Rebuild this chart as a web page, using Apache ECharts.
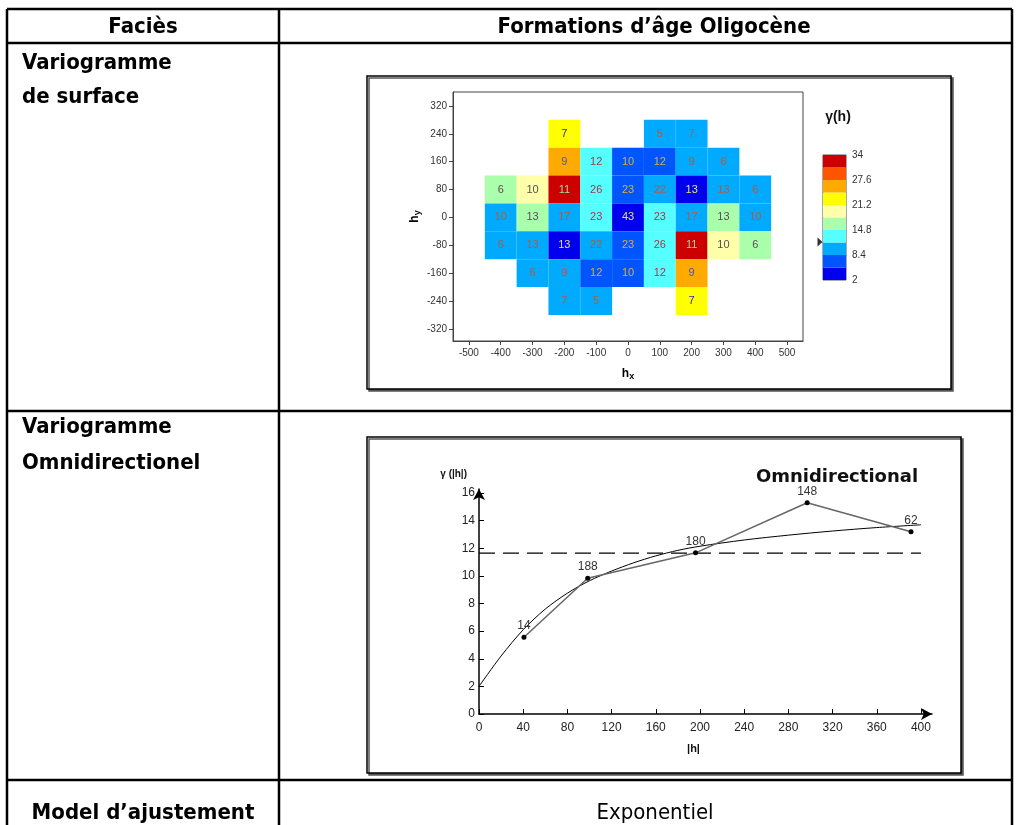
<!DOCTYPE html>
<html>
<head>
<meta charset="utf-8">
<script src="https://cdn.jsdelivr.net/npm/echarts@6/dist/echarts.min.js"></script>
<style>html,body{margin:0;padding:0;background:#fff}#c{width:1017px;height:825px}</style>
</head>
<body>
<div id="c"></div>
<script>
// ---- surface variogram map (cell centres, gamma value, pair count) ----
const hmX     = [-200, 100, 200,  -200,-100,   0, 100, 200, 300,  -400,-300,-200,-100,   0, 100, 200, 300, 400,  -400,-300,-200,-100,   0, 100, 200, 300, 400,  -400,-300,-200,-100,   0, 100, 200, 300, 400,  -300,-200,-100,   0, 100, 200,  -200,-100, 200];
const hmY     = [ 240, 240, 240,   160, 160, 160, 160, 160, 160,    80,  80,  80,  80,  80,  80,  80,  80,  80,     0,   0,   0,   0,   0,   0,   0,   0,   0,   -80, -80, -80, -80, -80, -80, -80, -80, -80,  -160,-160,-160,-160,-160,-160,  -240,-240,-240];
const hmGamma = [22.8,  10,  10,    26,13.2, 6.8, 6.8,  10,  10,  16.4,19.6,32.4,13.2, 6.8,  10, 3.6,  10,  10,    10,16.4,  10,13.2, 3.6,13.2,  10,16.4,  10,    10,  10, 3.6,  10, 6.8,13.2,32.4,19.6,16.4,    10,  10, 6.8, 6.8,13.2,  26,    10,  10,22.8];
const hmCount = [   7,   5,   7,     9,  12,  10,  12,   9,   6,     6,  10,  11,  26,  23,  22,  13,  13,   6,    10,  13,  17,  23,  43,  23,  17,  13,  10,     6,  13,  13,  22,  23,  26,  11,  10,   6,     6,   9,  12,  10,  12,   9,     7,   5,   7];
const cellW = 100, cellH = 80;
const hmXTicks = [-500,-400,-300,-200,-100,0,100,200,300,400,500];
const hmYTicks = [-320,-240,-160,-80,0,80,160,240,320];
// colour scale
const binEdges  = [2,5.2,8.4,11.6,14.8,18,21.2,24.4,27.6,30.8,34];
const binColors = ['#0000ee','#0055ff','#00aaff','#55ffff','#aaffaa','#ffffaa','#ffff00','#ffaa00','#ff5500','#cc0000'];
const scaleTicks = [2,8.4,14.8,21.2,27.6,34];
const pointerValue = 11.7;
// ---- omnidirectional variogram ----
const lagH     = [40.7, 98.4, 196, 297, 391];
const lagGamma = [5.56, 9.83, 11.67, 15.3, 13.2];
const lagPairs = [14, 188, 180, 148, 62];
const modelH     = [0, 20, 40, 60, 80, 100, 120, 140, 160, 180, 200, 240, 280, 320, 360, 400];
const modelGamma = [2.0, 4.2, 6.1, 7.6, 8.75, 9.65, 10.35, 10.95, 11.45, 11.85, 12.15, 12.6, 12.95, 13.25, 13.5, 13.7];
const sillValue = 11.65;
const vgXTicks = [0,40,80,120,160,200,240,280,320,360,400];
const vgYTicks = [0,2,4,6,8,10,12,14,16];

const textColorFor = {'#0000ee':'#e8e070','#0055ff':'#d8b040','#00aaff':'#b8583a','#55ffff':'#a83848','#aaffaa':'#604860','#ffffaa':'#585050','#ffff00':'#2828c8','#ffaa00':'#505898','#ff5500':'#303030','#cc0000':'#a0d8a0'};

const pieces = binColors.map((c,i)=>({min:binEdges[i], max:binEdges[i+1], color:c}));
const hmData = hmX.map((x,i)=>[x, hmY[i], hmGamma[i], hmCount[i]]);
const barData = binColors.map((c,i)=>[binEdges[i], binEdges[i+1], (binEdges[i]+binEdges[i+1])/2]);

function cellText(t, x, y, align, bold){
  return {type:'text', x:x, y:y, scaleX:0.9, z:20,
    style:{text:t, x:0, y:0, align:align, verticalAlign:'middle', fill:'#000',
      font:(bold===false?'':'bold ')+'22px "DejaVu Sans"'}};
}
function hline(y){return {type:'line', z:20, shape:{x1:7,y1:y,x2:1012,y2:y}, style:{stroke:'#000', lineWidth:2.5}};}
function vline(x){return {type:'line', z:20, shape:{x1:x,y1:9,x2:x,y2:825}, style:{stroke:'#000', lineWidth:2.5}};}

const chart = echarts.init(document.getElementById('c'), null, {renderer:'canvas'});
const tickFont = {fontFamily:'"Liberation Sans", Arial, sans-serif'};
chart.setOption({
  animation:false,
  grid:[
    {left:453, top:92, width:350, height:249, show:true, borderColor:'#444', borderWidth:1},
    {left:823, top:155, width:23, height:125, show:true, borderColor:'#555', borderWidth:1},
    {left:479, top:488.9, width:453, height:225.1}
  ],
  xAxis:[
    {gridIndex:0, type:'value', min:-550, max:550,
     name:'{h|h}{s|x}', nameLocation:'middle', nameGap:25,
     nameTextStyle:{rich:{h:{fontSize:12,fontWeight:'bold',color:'#000'}, s:{fontSize:9,fontWeight:'bold',color:'#000',padding:[6,0,0,0]}}},
     axisLine:{onZero:false, lineStyle:{color:'#444'}}, splitLine:{show:false},
     axisTick:{customValues:hmXTicks, length:4, lineStyle:{color:'#444'}},
     axisLabel:Object.assign({customValues:hmXTicks, fontSize:10, color:'#333', margin:7}, tickFont)},
    {gridIndex:1, type:'value', min:0, max:1, show:false},
    {gridIndex:2, type:'value', min:0, max:410,
     name:'|h|', nameLocation:'middle', nameGap:29,
     nameTextStyle:{fontSize:11, fontWeight:'bold', color:'#111', padding:[0,24,0,0], fontFamily:'"Liberation Sans", Arial'},
     axisLine:{onZero:false, symbol:['none','arrow'], symbolSize:[9,11], lineStyle:{color:'#000', width:1.5}},
     splitLine:{show:false},
     axisTick:{customValues:vgXTicks, inside:true, length:5, lineStyle:{color:'#000'}},
     axisLabel:Object.assign({customValues:vgXTicks, fontSize:12, color:'#222', margin:8}, tickFont)}
  ],
  yAxis:[
    {gridIndex:0, type:'value', min:-355, max:360,
     name:'{h|h}{s|y}', nameLocation:'middle', nameGap:31, nameRotate:90,
     nameTextStyle:{rich:{h:{fontSize:12,fontWeight:'bold',color:'#000'}, s:{fontSize:9,fontWeight:'bold',color:'#000',padding:[6,0,0,0]}}},
     axisLine:{show:true, onZero:false, lineStyle:{color:'#444'}}, splitLine:{show:false},
     axisTick:{show:true, customValues:hmYTicks, length:4, lineStyle:{color:'#444'}},
     axisLabel:Object.assign({customValues:hmYTicks, fontSize:10, color:'#333', margin:6}, tickFont)},
    {gridIndex:1, type:'value', min:2, max:34, position:'right',
     axisLine:{show:false}, axisTick:{show:false}, splitLine:{show:false},
     axisLabel:Object.assign({customValues:scaleTicks, fontSize:10, color:'#333', margin:6}, tickFont)},
    {gridIndex:2, type:'value', min:0, max:16.3,
     name:'γ (|h|)', nameLocation:'end', nameGap:10,
     nameTextStyle:{fontSize:10, fontWeight:'bold', color:'#111', align:'right', padding:[0,12,0,0], fontFamily:'"Liberation Sans", Arial'},
     axisLine:{show:true, onZero:false, symbol:['none','arrow'], symbolSize:[9,11], lineStyle:{color:'#000', width:1.5}},
     splitLine:{show:false},
     axisTick:{show:true, customValues:vgYTicks, inside:true, length:5, lineStyle:{color:'#000'}},
     axisLabel:Object.assign({customValues:vgYTicks, fontSize:12, color:'#222', margin:4}, tickFont)}
  ],
  visualMap:{type:'piecewise', show:false, dimension:2, seriesIndex:[0,1], pieces:pieces},
  series:[
    {type:'custom', xAxisIndex:0, yAxisIndex:0, data:hmData, encode:{x:0,y:1},
     renderItem:function(params, api){
       const x = api.value(0), y = api.value(1);
       const p1 = api.coord([x-cellW/2, y+cellH/2]);
       const p2 = api.coord([x+cellW/2, y-cellH/2]);
       const col = api.visual('color');
       return {type:'group', children:[
         {type:'rect', shape:{x:p1[0], y:p1[1], width:p2[0]-p1[0], height:p2[1]-p1[1]}, style:{fill:col}},
         {type:'text', style:{text:String(api.value(3)), x:(p1[0]+p2[0])/2, y:(p1[1]+p2[1])/2, align:'center', verticalAlign:'middle',
           fill:textColorFor[col]||'#333', font:'11px "Liberation Sans", Arial'}}
       ]};
     }},
    {type:'custom', xAxisIndex:1, yAxisIndex:1, data:barData, encode:{y:[0,1]},
     renderItem:function(params, api){
       const p1 = api.coord([0, api.value(1)]);
       const p2 = api.coord([1, api.value(0)]);
       return {type:'rect', shape:{x:p1[0], y:p1[1], width:p2[0]-p1[0], height:p2[1]-p1[1]}, style:{fill:api.visual('color')}};
     }},
    {type:'scatter', xAxisIndex:1, yAxisIndex:1, data:[[0, pointerValue]], symbol:'triangle', symbolSize:[9,5], symbolRotate:-90, symbolOffset:[-3,0], itemStyle:{color:'#000'}, silent:true},
    {type:'line', xAxisIndex:2, yAxisIndex:2, data:modelH.map((h,i)=>[h, modelGamma[i]]), smooth:0.3, showSymbol:false, symbol:'none', lineStyle:{color:'#000', width:1}},
    {type:'line', xAxisIndex:2, yAxisIndex:2, data:lagH.map((h,i)=>[h, lagGamma[i], lagPairs[i]]),
     symbol:'circle', symbolSize:5, itemStyle:{color:'#000'}, lineStyle:{color:'#666', width:1.5},
     label:{show:true, position:'top', distance:3, fontSize:12, color:'#333', fontFamily:'"Liberation Sans", Arial', formatter:p=>String(p.value[2])}},
    {type:'line', xAxisIndex:2, yAxisIndex:2, data:[[0, sillValue],[400, sillValue]], symbol:'none', lineStyle:{color:'#000', width:1.2, type:[16,8]}}
  ],
  graphic:[
    {type:'rect', z:-5, shape:{x:367, y:76, width:584, height:313}, style:{fill:'#fff', stroke:'#000', lineWidth:1.5, shadowColor:'#555', shadowOffsetX:2, shadowOffsetY:2, shadowBlur:0}},
    {type:'rect', z:-5, shape:{x:367, y:437, width:594, height:336}, style:{fill:'#fff', stroke:'#000', lineWidth:1.5, shadowColor:'#555', shadowOffsetX:2, shadowOffsetY:2, shadowBlur:0}},
    {type:'text', z:20, style:{text:'γ(h)', x:838, y:117, align:'center', verticalAlign:'middle', fill:'#111', font:'bold 14px "Liberation Sans", Arial'}},
    {type:'text', z:20, style:{text:'Omnidirectional', x:837, y:477, align:'center', verticalAlign:'middle', fill:'#111', font:'bold 18px "DejaVu Sans"'}},
    hline(9), hline(43), hline(411), hline(780),
    vline(7), vline(279), vline(1012),
    cellText('Faciès', 143, 27.5, 'center'),
    cellText('Formations d’âge Oligocène', 654, 27.5, 'center'),
    cellText('Variogramme', 22, 63.5, 'left'),
    cellText('de surface', 22, 97.5, 'left'),
    cellText('Variogramme', 22, 427.5, 'left'),
    cellText('Omnidirectionel', 22, 463, 'left'),
    cellText('Model d’ajustement', 143, 813.5, 'center'),
    cellText('Exponentiel', 655, 813.5, 'center', false)
  ]
});
</script>
</body>
</html>
